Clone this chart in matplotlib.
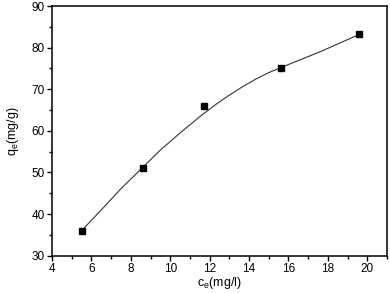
import matplotlib
matplotlib.use("Agg")
import matplotlib.pyplot as plt
from matplotlib.ticker import MultipleLocator

plt.rcParams["font.family"] = ["Liberation Sans", "DejaVu Sans"]
plt.rcParams["mathtext.default"] = "regular"

# measured points
ce = [5.5, 8.6, 11.7, 15.6, 19.6]
qe = [36.0, 51.1, 66.0, 75.2, 83.2]

# fitted curve
fit_x = [5.5, 6.5, 7.5, 8.6, 9.5, 10.5, 11.6, 12.3, 13.0, 13.7, 14.4, 15.0, 15.6, 16.6, 17.6, 18.6, 19.6]
fit_y = [36.0, 41.0, 46.1, 51.2, 55.4, 59.5, 63.8, 66.3, 68.6, 70.7, 72.6, 74.0, 75.2, 77.1, 79.0, 81.1, 83.2]

fig = plt.figure(figsize=(3.9, 2.93), dpi=100)
ax = fig.add_axes([0.1333, 0.1273, 0.859, 0.852])

ax.plot(fit_x, fit_y, color="#333333", lw=0.8)
ax.plot(ce, qe, ls="none", marker="s", ms=4.3, color="black")

ax.set_xlim(4, 21)
ax.set_ylim(30, 90)
ax.xaxis.set_major_locator(MultipleLocator(2))
ax.xaxis.set_minor_locator(MultipleLocator(1))
ax.yaxis.set_major_locator(MultipleLocator(10))
ax.yaxis.set_minor_locator(MultipleLocator(5))
ax.tick_params(which="major", direction="out", length=3.5, width=1, labelsize=8.5, pad=1.5)
ax.tick_params(which="minor", direction="out", length=2, width=1)
ax.tick_params(top=False, right=False)
for s in ax.spines.values():
    s.set_linewidth(1.1)

ax.set_xlabel("c$_e$(mg/l)", fontsize=9, labelpad=0)
ax.set_ylabel("q$_e$(mg/g)", fontsize=9, labelpad=8)

fig.savefig("out.png", dpi=100)
